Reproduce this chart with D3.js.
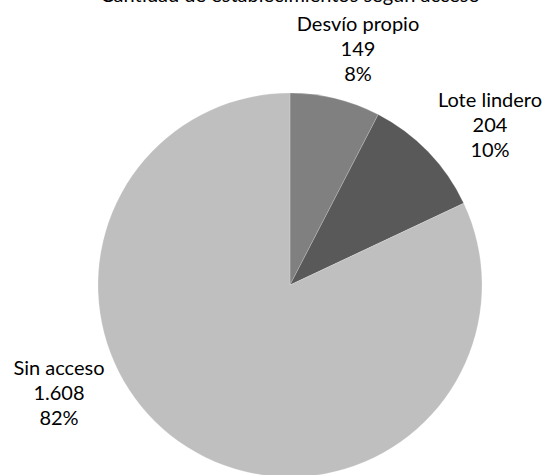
<!DOCTYPE html>
<html>
<head>
<meta charset="utf-8">
<script src="https://cdn.jsdelivr.net/npm/d3@7"></script>
<style>
  html, body { margin: 0; padding: 0; background: #ffffff; }
  svg { display: block; }
  text { font-family: Lato, "Open Sans", sans-serif; fill: #000; }
</style>
</head>
<body>
<svg id="chart" width="548" height="475"></svg>
<script>
// Establishments by type of rail access
const categories = ["Desvío propio", "Lote lindero", "Sin acceso"];
const values = [149, 204, 1608];
const valueLabels = ["149", "204", "1.608"];
const percentLabels = ["8%", "10%", "82%"];
const colors = ["#808080", "#595959", "#bfbfbf"];
const title = "Cantidad de establecimientos según acceso";

const width = 548, height = 475;
const cx = 290, cy = 285, radius = 192;

const svg = d3.select("#chart");

// Title runs off the top edge of the frame
svg.append("text")
  .attr("x", 290)
  .attr("y", 2)
  .attr("text-anchor", "middle")
  .style("font-size", "20px")
  .text(title);

const pie = d3.pie().sort(null).value(d => d.value);
const arc = d3.arc().innerRadius(0).outerRadius(radius);

const data = categories.map((c, i) => ({
  name: c, value: values[i], valueLabel: valueLabels[i],
  pct: percentLabels[i], color: colors[i]
}));
const arcs = pie(data);

const g = svg.append("g").attr("transform", `translate(${cx},${cy})`);

g.selectAll("path")
  .data(arcs)
  .join("path")
  .attr("d", arc)
  .attr("fill", d => d.data.color)
  .attr("stroke", "#ffffff")
  .attr("stroke-width", 0.5)
  .attr("stroke-opacity", 0.4);

// Label blocks sit outside the pie; anchor = baseline of the middle line,
// relative to the pie centre (best-fit placement, one per slice).
const lineH = 25;
const labelAnchor = [[68, -229], [200, -153], [-231, 115]];

const labels = g.selectAll("text.lbl")
  .data(arcs)
  .join("text")
  .attr("class", "lbl")
  .attr("text-anchor", "middle")
  .style("font-size", "20px")
  .attr("transform", (d, i) => `translate(${labelAnchor[i][0]},${labelAnchor[i][1]})`);

labels.each(function(d) {
  const t = d3.select(this);
  const lines = [d.data.name, d.data.valueLabel, d.data.pct];
  lines.forEach((s, i) => {
    t.append("tspan").attr("x", 0).attr("y", (i - 1) * lineH).text(s);
  });
});
</script>
</body>
</html>
